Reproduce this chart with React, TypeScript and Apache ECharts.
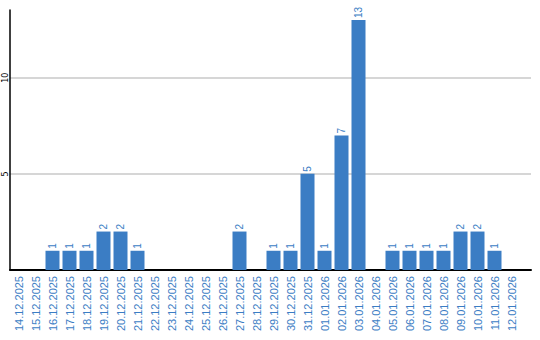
import React, { useEffect, useRef } from "react";
import * as echarts from "echarts";

const categories = [
  "14.12.2025", "15.12.2025", "16.12.2025", "17.12.2025", "18.12.2025",
  "19.12.2025", "20.12.2025", "21.12.2025", "22.12.2025", "23.12.2025",
  "24.12.2025", "25.12.2025", "26.12.2025", "27.12.2025", "28.12.2025",
  "29.12.2025", "30.12.2025", "31.12.2025", "01.01.2026", "02.01.2026",
  "03.01.2026", "04.01.2026", "05.01.2026", "06.01.2026", "07.01.2026",
  "08.01.2026", "09.01.2026", "10.01.2026", "11.01.2026", "12.01.2026",
];

const counts = [
  0, 0, 1, 1, 1, 2, 2, 1, 0, 0,
  0, 0, 0, 2, 0, 1, 1, 5, 1, 7,
  13, 0, 1, 1, 1, 1, 2, 2, 1, 0,
];

const yTickValues = [5, 10];
const yMax = 13.52;
const yInterval = 5;

const BLUE = "#3b7dc4";

export default function App() {
  const ref = useRef<HTMLDivElement>(null);

  useEffect(() => {
    document.body.style.margin = "0";
    if (!ref.current) return;
    const chart = echarts.init(ref.current, null, { renderer: "svg" });
    chart.setOption({
      animation: false,
      grid: [
        { left: 10, top: 10, width: 510, height: 260, containLabel: false },
        { left: 10, top: 10, width: 521, height: 260, containLabel: false },
      ],
      xAxis: [
        {
          type: "category",
          gridIndex: 0,
          data: categories,
          axisLine: { show: false },
          axisTick: { show: false },
          axisLabel: {
            rotate: 90,
            interval: 0,
            color: BLUE,
            fontSize: 11,
            fontFamily: "Liberation Sans",
            margin: 6,
          },
        },
        {
          type: "value",
          gridIndex: 1,
          min: 0,
          max: 1,
          axisLine: { show: true, lineStyle: { color: "#000", width: 2 } },
          axisTick: { show: false },
          axisLabel: { show: false },
          splitLine: { show: false },
        },
      ],
      yAxis: [
        {
          type: "value",
          gridIndex: 0,
          min: 0,
          max: yMax,
          interval: yInterval,
          axisLine: { show: true, lineStyle: { color: "#000", width: 1.5 } },
          axisTick: { show: false },
          axisLabel: { show: false },
          splitLine: { show: false },
        },
        {
          type: "value",
          gridIndex: 1,
          min: 0,
          max: yMax,
          interval: yInterval,
          axisLine: { show: false },
          axisTick: { show: false },
          axisLabel: { show: false },
          splitLine: {
            show: true,
            showMinLine: false,
            showMaxLine: false,
            lineStyle: { color: "#c8c8c8", width: 1.5 },
          },
        },
      ],
      series: [
        {
          type: "bar",
          xAxisIndex: 0,
          yAxisIndex: 0,
          data: counts.map((v) => (v === 0 ? null : v)),
          barWidth: 14,
          itemStyle: { color: BLUE },
          label: {
            show: true,
            position: "top",
            rotate: 90,
            align: "left",
            verticalAlign: "middle",
            distance: 2,
            color: BLUE,
            fontSize: 10,
            fontFamily: "Liberation Sans",
          },
        },
      ],
    });

    chart.setOption({
      graphic: yTickValues.map((v) => ({
        type: "text",
        x: 5,
        y: chart.convertToPixel({ yAxisIndex: 0 }, v) as number,
        rotation: Math.PI / 2,
        silent: true,
        style: {
          text: String(v),
          align: "center",
          verticalAlign: "middle",
          fill: "#000",
          fontSize: 8,
          fontFamily: "DejaVu Sans",
        },
      })),
    });

    return () => chart.dispose();
  }, []);

  return <div ref={ref} style={{ width: 540, height: 340 }} />;
}
